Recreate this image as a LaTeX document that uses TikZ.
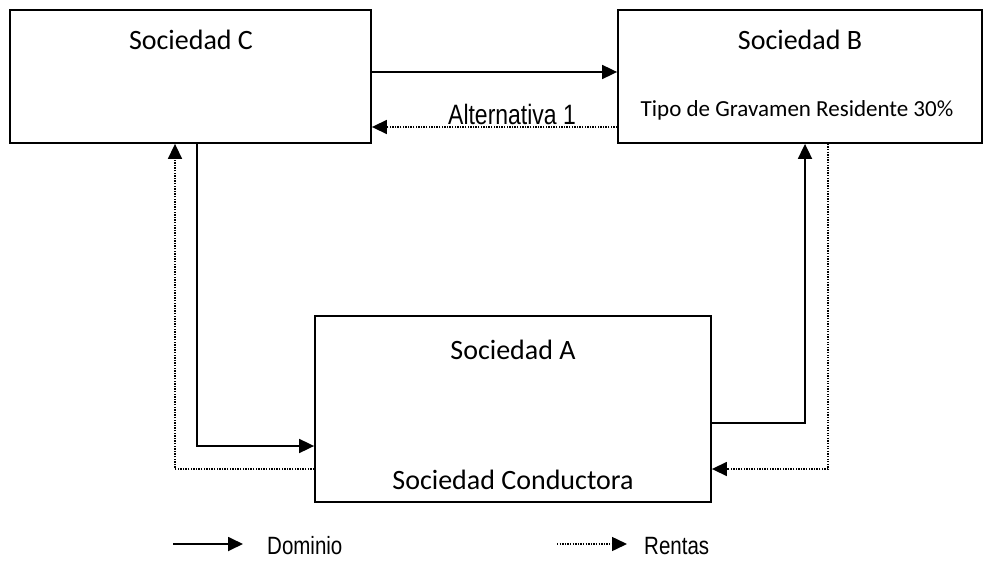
\documentclass[tikz,border=0pt]{standalone}
\usepackage{fontspec}
\setmainfont{Carlito}
\newfontfamily\narrowfont[FakeStretch=0.82]{Liberation Sans}
\usepackage{tikz}
\usetikzlibrary{arrows.meta}
\usetikzlibrary{positioning}

\tikzset{
	sociedad/.style={draw, line width=1.8pt, inner sep=0pt},
	dominio/.style={line width=1.8pt, -{Triangle[length=15pt,width=14pt]}},
	rentas/.style={line width=1.5pt, dash pattern=on 1.3pt off 1.3pt, -{Triangle[length=15pt,width=14pt]}},
	etiqueta/.style={font=\fontsize{28}{30}\selectfont, inner sep=0pt}
}

\begin{document}
\begin{tikzpicture}[x=1pt, y=-1pt]
\useasboundingbox (0,0) rectangle (992,569);
\node[sociedad, minimum width=361pt, minimum height=133pt] (socC) at (190.5,76.5) {};
\node[sociedad, minimum width=364pt, minimum height=133pt] (socB) at (800,76.5) {};
\node[sociedad, minimum width=396pt, minimum height=186pt] (socA) at (513,409) {};
\node[etiqueta] (tC) at (191,40) {Sociedad C};
\node[etiqueta] (tB) at (800,40) {Sociedad B};
\node[etiqueta, font=\fontsize{23}{25}\selectfont] (tipo) at (797,110) {Tipo de Gravamen Residente 30\%};
\node[etiqueta] (tA) at (513,350) {Sociedad A};
\node[etiqueta] (tCond) at (513,480) {Sociedad Conductora};
\node[etiqueta, font=\narrowfont\fontsize{28}{30}\selectfont] (alt) at (512,114) {Alternativa 1};
% conexiones
\draw[dominio] (socC.east |- 0,72) -- (socB.west |- 0,72);
\draw[rentas] (socB.west |- 0,127) -- (socC.east |- 0,127);
\draw[dominio] (socC.south -| 197,0) |- (socA.west |- 0,446);
\draw[rentas] (socA.west |- 0,469) -| (socC.south -| 175,0);
\draw[dominio] (socA.east |- 0,423) -| (socB.south -| 805,0);
\draw[rentas] (socB.south -| 828,0) |- (socA.east |- 0,469);
% leyenda
\coordinate (d1) at (173,544);
\coordinate (d2) at (243,544);
\coordinate (r1) at (557,544);
\coordinate (r2) at (627,544);
\draw[dominio] (d1) -- (d2);
\draw[rentas] (r1) -- (r2);
\node[etiqueta, font=\narrowfont\fontsize{25}{27}\selectfont, anchor=west] (dom) at (267,546) {Dominio};
\node[etiqueta, font=\narrowfont\fontsize{25}{27}\selectfont, anchor=west] (ren) at (644,546) {Rentas};
\end{tikzpicture}
\end{document}
